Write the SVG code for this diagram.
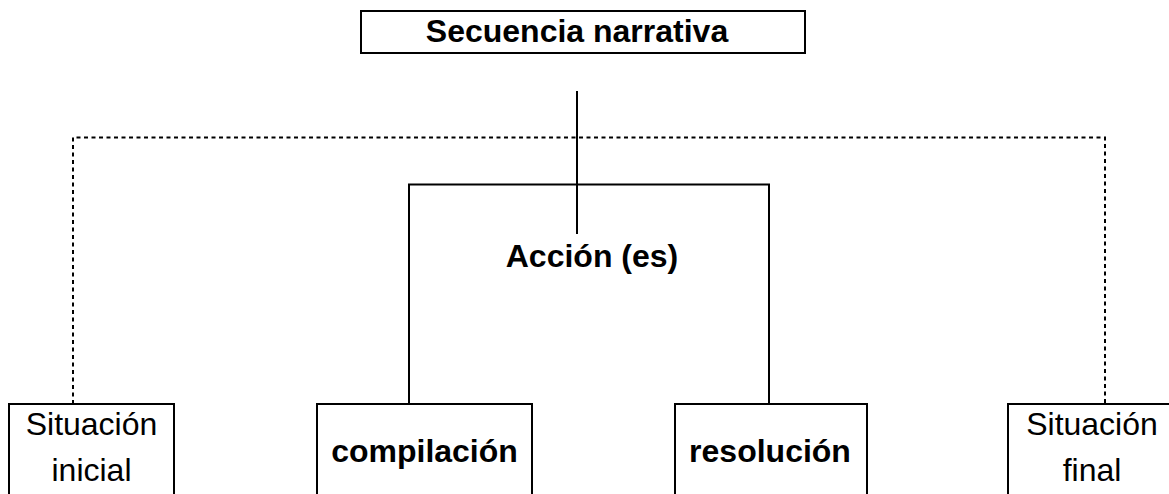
<svg xmlns="http://www.w3.org/2000/svg" width="1169" height="494" viewBox="0 0 1169 494">
<style>
.box{fill:#fff;stroke:#000;stroke-width:2}
.ln{fill:none;stroke:#000;stroke-width:2}
.dot{fill:none;stroke:#000;stroke-width:2;stroke-dasharray:4 3.5}
.b{font-family:"Liberation Sans",Arial,sans-serif;font-size:32px;font-weight:bold;fill:#000;text-anchor:middle}
.r{font-family:"Liberation Sans",Arial,sans-serif;font-size:32px;fill:#000;text-anchor:middle}
</style>
<rect width="1169" height="494" fill="#fff"/>
<g id="connectors">
<path class="dot" d="M73,404 V137.5 H1105 V404"/>
<path class="ln" d="M577,91 V234"/>
<path class="ln" d="M409,404 V184.5 H769 V404"/>
</g>
<g id="secuencia">
<rect class="box" x="361" y="11" width="444" height="42"/>
<text class="b" x="577" y="42">Secuencia narrativa</text>
</g>
<g id="accion">
<text class="b" x="592" y="267">Acción (es)</text>
</g>
<g id="situacion-inicial">
<rect class="box" x="9" y="404" width="165" height="100"/>
<text class="r" x="91.5" y="435">Situación</text>
<text class="r" x="91.5" y="481">inicial</text>
</g>
<g id="compilacion">
<rect class="box" x="317" y="404" width="215" height="100"/>
<text class="b" x="424.5" y="462">compilación</text>
</g>
<g id="resolucion">
<rect class="box" x="675" y="404" width="192" height="100"/>
<text class="b" x="770" y="462">resolución</text>
</g>
<g id="situacion-final">
<rect class="box" x="1008" y="404" width="170" height="100"/>
<text class="r" x="1092" y="435">Situación</text>
<text class="r" x="1092" y="481">final</text>
</g>
</svg>
